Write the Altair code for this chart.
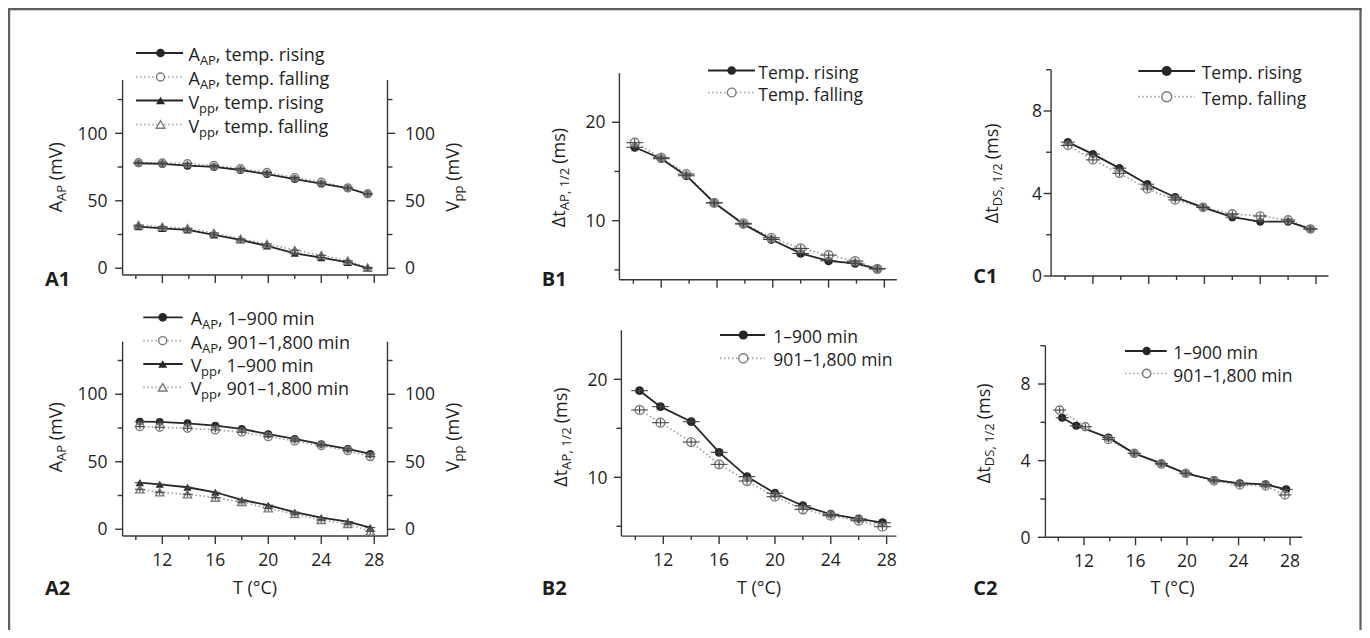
import altair as alt
import pandas as pd

# ---------------- values ----------------
T_A1 = [10.2, 12.0, 13.9, 15.9, 17.9, 19.9, 22.0, 24.0, 26.0, 27.5]
A1_aap_rise = [77.8, 77.3, 76.0, 75.1, 72.8, 69.8, 66.1, 62.7, 59.3, 55.0]
A1_aap_fall = [78.2, 78.0, 77.5, 76.2, 73.8, 71.0, 67.2, 63.8, 59.6, 55.2]
A1_vpp_rise = [30.8, 29.6, 28.4, 24.7, 21.0, 16.5, 11.1, 7.9, 4.4, 0.0]
A1_vpp_fall = [32.0, 30.8, 29.6, 26.2, 21.8, 18.0, 13.4, 9.6, 5.6, 0.6]

T_A2 = [10.3, 11.8, 13.9, 16.0, 18.0, 20.0, 22.0, 24.0, 26.0, 27.7]
A2_aap_early = [79.7, 79.5, 78.5, 76.8, 74.3, 70.4, 66.9, 63.0, 59.5, 55.8]
A2_aap_late = [76.0, 75.5, 74.8, 73.6, 71.9, 68.6, 65.4, 61.9, 58.2, 53.8]
A2_vpp_early = [34.5, 33.3, 31.1, 27.4, 21.7, 17.8, 12.6, 8.6, 5.7, 1.2]
A2_vpp_late = [29.6, 27.4, 25.9, 23.4, 20.2, 15.5, 11.3, 6.9, 3.9, -1.5]

T_B1 = [10.1, 12.0, 13.8, 15.8, 17.9, 19.9, 22.0, 24.0, 25.9, 27.5]
B1_rise = [17.46, 16.30, 14.57, 11.82, 9.65, 8.09, 6.67, 5.92, 5.66, 5.11]
B1_fall = [17.93, 16.40, 14.74, 11.82, 9.73, 8.26, 7.18, 6.50, 5.89, 5.11]

T_B2 = [10.3, 11.8, 14.0, 16.0, 18.0, 20.0, 22.0, 24.0, 26.0, 27.7]
B2_early = [18.84, 17.21, 15.68, 12.55, 10.07, 8.37, 7.10, 6.23, 5.75, 5.37]
B2_late = [16.87, 15.57, 13.60, 11.32, 9.62, 8.02, 6.73, 6.08, 5.57, 4.96]

T_C1 = [10.2, 12.0, 13.9, 15.9, 17.9, 19.9, 22.0, 24.0, 26.0, 27.6]
C1_rise = [6.49, 5.91, 5.23, 4.45, 3.82, 3.33, 2.85, 2.64, 2.64, 2.28]
C1_fall = [6.33, 5.63, 4.98, 4.22, 3.69, 3.33, 3.01, 2.91, 2.72, 2.28]

T_C2_early = [10.3, 11.4, 13.9, 15.9, 18.0, 19.9, 22.1, 24.1, 26.1, 27.7]
T_C2_late = [10.1, 12.1, 13.9, 15.9, 18.0, 19.9, 22.1, 24.1, 26.1, 27.6]
C2_early = [6.24, 5.82, 5.20, 4.38, 3.86, 3.34, 2.99, 2.82, 2.76, 2.50]
C2_late = [6.64, 5.77, 5.11, 4.38, 3.82, 3.34, 2.94, 2.73, 2.68, 2.21]

# error-bar half widths estimated from the crosses
TERR_A, YERR_A = 0.38, 2.0
TERR_B, YERR_B = 0.6, 0.35
TERR_C, YERR_C = 0.5, 0.15

# tick values
X_MAJOR = [12, 16, 20, 24, 28]
X_MINOR = [10, 14, 18, 22, 26]
A_Y_MAJOR, A_Y_MINOR = [0, 50, 100], [25, 75, 125]
B_Y_MAJOR, B_Y_MINOR = [10, 20], [5, 15]
C_Y_MAJOR, C_Y_MINOR = [0, 4, 8], [2, 6, 10]

# ---------------- style / layout ----------------
FONT = "Open Sans"
DARK = "#262626"
LIGHT = "#a0a0a0"
HOLLOW = "#7a7a7a"
ERR = "#444444"
AXC = "#363636"
TXT = "#1e1e1e"
MAIN, SUB = 18, 13
TICKFS = 17.5
W, H = 1354, 622
OFF = 8
ONE = pd.DataFrame({"k": [0]})
AXR = dict(color=AXC, strokeWidth=1.4)


def px(v):
    return v - OFF


GEOM = {
    "A1": dict(xdom=[9, 29], xr=[122.6, 387.5], ydom=[-5, 139.5], yr=[275.0, 80.0], gap=15),
    "A2": dict(xdom=[9, 29], xr=[122.6, 387.5], ydom=[-5, 139], yr=[536.0, 341.6], gap=15),
    "B1": dict(xdom=[9, 28.9], xr=[619.4, 896.9], ydom=[4, 25], yr=[279.7, 73.1], gap=14),
    "B2": dict(xdom=[9, 28.7], xr=[621.4, 896.4], ydom=[4, 25], yr=[536.1, 330.3], gap=14),
    "C1": dict(xdom=[9, 28.9], xr=[1051.1, 1328.5], ydom=[0, 10], yr=[276.0, 69.75], gap=9),
    "C2": dict(xdom=[9, 28.95], xr=[1045.4, 1302.3], ydom=[0, 10], yr=[537.3, 345.7], gap=15),
}


def series_df(Ta, va, vb, te, ve, Tb=None):
    Tb = Tb if Tb is not None else Ta
    n = len(va) + len(vb)
    return pd.DataFrame({"T": Ta + Tb, "v": va + vb,
                         "s": ["a"] * len(va) + ["b"] * len(vb),
                         "te": [te] * n, "ve": [ve] * n})


def xscale(g):
    return alt.Scale(domain=g["xdom"], range=[px(g["xr"][0]), px(g["xr"][1])], nice=False, zero=False)


def yscale(g):
    return alt.Scale(domain=g["ydom"], range=[px(g["yr"][0]), px(g["yr"][1])], nice=False, zero=False)


def XF(field, xs):
    return alt.X(f"{field}:Q", scale=xs, axis=None, title=None)


def YF(field, ys):
    return alt.Y(f"{field}:Q", scale=ys, axis=None, title=None)


def series_layers(df, xs, ys, shape, msize):
    base = alt.Chart(df).transform_calculate(
        xlo="datum.T - datum.te", xhi="datum.T + datum.te",
        ylo="datum.v - datum.ve", yhi="datum.v + datum.ve")
    a = base.transform_filter("datum.s === 'a'")
    b = base.transform_filter("datum.s === 'b'")
    enc = dict(x=XF("T", xs), y=YF("v", ys))
    dotted = b.mark_line(color=LIGHT, strokeWidth=1.7, strokeDash=[1.5, 2.5]).encode(**enc)
    solid = a.mark_line(color=DARK, strokeWidth=1.8).encode(**enc)
    full = a.mark_point(shape=shape, filled=True, size=msize, color=DARK, opacity=1).encode(**enc)
    hollow = b.mark_point(shape=shape, filled=False, fill="white", fillOpacity=0.45, size=msize,
                          color=HOLLOW, strokeWidth=1.4, opacity=1).encode(**enc)
    ex = base.mark_rule(color=ERR, strokeWidth=1.1).encode(x=XF("xlo", xs), x2="xhi:Q", y=YF("v", ys))
    ey = base.mark_rule(color=ERR, strokeWidth=1.1).encode(x=XF("T", xs), y=YF("ylo", ys), y2="yhi:Q")
    return [dotted, solid, full, hollow, ex, ey]


def x_axis_layers(g, xs, labels):
    yb = px(g["yr"][0])
    out = [
        alt.Chart(pd.DataFrame({"a": [g["xdom"][0]], "b": [g["xdom"][1]]})).mark_rule(**AXR).encode(
            x=XF("a", xs), x2="b:Q", y=alt.value(yb)),
        alt.Chart(pd.DataFrame({"T": X_MAJOR})).mark_rule(**AXR).encode(
            x=XF("T", xs), y=alt.value(yb), y2=alt.value(yb + 8)),
        alt.Chart(pd.DataFrame({"T": X_MINOR})).mark_rule(**AXR).encode(
            x=XF("T", xs), y=alt.value(yb), y2=alt.value(yb + 4)),
    ]
    if labels:
        out.append(alt.Chart(pd.DataFrame({"T": X_MAJOR})).mark_text(
            align="center", baseline="alphabetic", font=FONT, fontSize=TICKFS, color=TXT).encode(
            x=XF("T", xs), y=alt.value(yb + 30), text=alt.Text("T:Q")))
    return out


def y_axis_layers(g, ys, major, minor, side):
    xe = px(g["xr"][0]) if side == "left" else px(g["xr"][1])
    sgn = -1 if side == "left" else 1
    out = [
        alt.Chart(pd.DataFrame({"c": [g["ydom"][0]], "d": [g["ydom"][1]]})).mark_rule(**AXR).encode(
            y=YF("c", ys), y2="d:Q", x=alt.value(xe)),
        alt.Chart(pd.DataFrame({"v": major})).mark_rule(**AXR).encode(
            y=YF("v", ys), x=alt.value(xe), x2=alt.value(xe + sgn * 7.5)),
        alt.Chart(pd.DataFrame({"v": minor})).mark_rule(**AXR).encode(
            y=YF("v", ys), x=alt.value(xe), x2=alt.value(xe + sgn * 5)),
    ]
    if side == "left":
        out.append(alt.Chart(pd.DataFrame({"v": major})).mark_text(
            align="right", baseline="alphabetic", font=FONT, fontSize=TICKFS, color=TXT, dy=6.2).encode(
            y=YF("v", ys), x=alt.value(xe - g["gap"]), text=alt.Text("v:Q")))
    else:
        out.append(alt.Chart(pd.DataFrame({"v": major})).mark_text(
            align="left", baseline="alphabetic", font=FONT, fontSize=TICKFS, color=TXT, dy=6.2).encode(
            y=YF("v", ys), x=alt.value(xe + 17.5), text=alt.Text("v:Q")))
    return out


def panel_A(key, aap_df, vpp_df, xlabels):
    g = GEOM[key]
    xs, ysl, ysr = xscale(g), yscale(g), yscale(g)
    left = alt.layer(*x_axis_layers(g, xs, xlabels), *y_axis_layers(g, ysl, A_Y_MAJOR, A_Y_MINOR, "left"),
                     *series_layers(aap_df, xs, ysl, "circle", 62))
    right = alt.layer(*y_axis_layers(g, ysr, A_Y_MAJOR, A_Y_MINOR, "right"),
                      *series_layers(vpp_df, xs, ysr, "triangle-up", 68))
    return alt.layer(left, right).resolve_scale(y="independent")


def panel_BC(key, df, ymaj, ymin, xlabels, msize):
    g = GEOM[key]
    xs, ys = xscale(g), yscale(g)
    return alt.layer(*x_axis_layers(g, xs, xlabels), *y_axis_layers(g, ys, ymaj, ymin, "left"),
                     *series_layers(df, xs, ys, "circle", msize))


# ---------------- text helpers ----------------
CW = {" ": 0.26, "A": 0.633, "P": 0.59, "V": 0.579, "D": 0.722, "S": 0.536, "Δ": 0.60,
      "t": 0.35, "p": 0.613, "m": 0.93, "(": 0.29, ")": 0.29, "s": 0.486, ",": 0.245,
      "1": 0.572, "/": 0.339, "2": 0.572}


def tw(s, size):
    return sum(CW.get(c, 0.55) for c in s) * size


def text_mark(s, x, y, size, dx=0.0, dy=0.0, angle=0, weight=None, align="left"):
    kw = dict(align=align, baseline="alphabetic", font=FONT, fontSize=size, color=TXT,
              dx=dx, dy=dy, text=s)
    if angle:
        kw["angle"] = angle
    if weight:
        kw["fontWeight"] = weight
    return alt.Chart(ONE).mark_text(**kw).encode(x=alt.value(px(x)), y=alt.value(px(y)))


def rich(parts, x, y, angle=0, main=MAIN, sub=SUB):
    out, adv = [], 0.0
    for s, is_sub in parts:
        size = sub if is_sub else main
        lead = len(s) - len(s.lstrip(" "))
        adv += tw(" " * lead, size)
        core = s.lstrip(" ")
        out.append(text_mark(core, x, y, size, dx=adv, dy=(4 if is_sub else 0), angle=angle))
        adv += tw(core, size)
    return out


def rich_width(parts, main=MAIN, sub=SUB):
    return sum(tw(s, sub if b else main) for s, b in parts)


def vtitle(parts, xbase, cy):
    total = rich_width(parts)
    return rich(parts, xbase, cy + total / 2, angle=270)


def legend_row(xl0, xl1, xm, y, xt, style, shape, msize, parts, main=MAIN):
    if style == "a":
        rule = alt.Chart(ONE).mark_rule(color=DARK, strokeWidth=1.8)
        pt = alt.Chart(ONE).mark_point(shape=shape, filled=True, size=msize, color=DARK, opacity=1)
    else:
        rule = alt.Chart(ONE).mark_rule(color=LIGHT, strokeWidth=1.7, strokeDash=[1.5, 2.5])
        pt = alt.Chart(ONE).mark_point(shape=shape, filled=False, fill="white", size=msize,
                                       color=HOLLOW, strokeWidth=1.4, opacity=1)
    out = [rule.encode(x=alt.value(px(xl0)), x2=alt.value(px(xl1)), y=alt.value(px(y))),
           pt.encode(x=alt.value(px(xm)), y=alt.value(px(y)))]
    return out + rich(parts, xt, y + 8, main=main)


# ---------------- panels ----------------
A1 = panel_A("A1", series_df(T_A1, A1_aap_rise, A1_aap_fall, TERR_A, YERR_A),
             series_df(T_A1, A1_vpp_rise, A1_vpp_fall, TERR_A, YERR_A), False)
A2 = panel_A("A2", series_df(T_A2, A2_aap_early, A2_aap_late, TERR_A, YERR_A),
             series_df(T_A2, A2_vpp_early, A2_vpp_late, TERR_A, YERR_A), True)
B1 = panel_BC("B1", series_df(T_B1, B1_rise, B1_fall, TERR_B, YERR_B), B_Y_MAJOR, B_Y_MINOR, False, 78)
B2 = panel_BC("B2", series_df(T_B2, B2_early, B2_late, TERR_B, YERR_B), B_Y_MAJOR, B_Y_MINOR, True, 78)
C1 = panel_BC("C1", series_df(T_C1, C1_rise, C1_fall, TERR_C, YERR_C), C_Y_MAJOR, C_Y_MINOR, False, 68)
C2 = panel_BC("C2", series_df(T_C2_early, C2_early, C2_late, TERR_C, YERR_C, T_C2_late),
              C_Y_MAJOR, C_Y_MINOR, True, 66)

# ---------------- annotations ----------------
ann = []
FR = dict(color="#5e5e5e", strokeWidth=2.2)
ann.append(alt.Chart(ONE).mark_rule(**FR).encode(x=alt.value(1.1), y=alt.value(0), y2=alt.value(H)))
ann.append(alt.Chart(ONE).mark_rule(**FR).encode(x=alt.value(0), x2=alt.value(W), y=alt.value(1.1)))
ann.append(alt.Chart(ONE).mark_rule(**FR).encode(x=alt.value(W - 1.5), y=alt.value(0), y2=alt.value(H)))

A_TXT1 = [", temp. rising", ", temp. falling", ", temp. rising", ", temp. falling"]
A_TXT2 = [", 1–900 min", ", 901–1,800 min", ", 1–900 min", ", 901–1,800 min"]
A_SYM = [("a", "circle", 75, "A", "AP"), ("b", "circle", 65, "A", "AP"),
         ("a", "triangle-up", 80, "V", "pp"), ("b", "triangle-up", 75, "V", "pp")]
for rows, txts, (l0, l1, lm, lt) in [
        ([53, 77, 100.5, 124.5], A_TXT1, (136, 183, 160.5, 188.5)),
        ([317.3, 340.7, 364, 387.3], A_TXT2, (143.3, 182.7, 162.7, 190.7))]:
    for y, t, (st, sh, ms, big, small) in zip(rows, txts, A_SYM):
        ann += legend_row(l0, l1, lm, y, lt, st, sh, ms, [(big, False), (small, True), (t, False)])

for rows, txts, (l0, l1, lm, lt), ms in [
        ([70.5, 92.5], ["Temp. rising", "Temp. falling"], (708, 755, 731.7, 758.3), 75),
        ([335, 358.3], ["1–900 min", "901–1,800 min"], (720, 765, 743.3, 773.3), 85),
        ([71, 96.7], ["Temp. rising", "Temp. falling"], (1138.3, 1195, 1166.7, 1201.7), 100),
        ([351, 373.5], ["1–900 min", "901–1,800 min"], (1125, 1166.7, 1146.7, 1173.3), 70)]:
    ann += legend_row(l0, l1, lm, rows[0], lt, "a", "circle", ms, [(txts[0], False)], main=17.5)
    ann += legend_row(l0, l1, lm, rows[1], lt, "b", "circle", ms, [(txts[1], False)], main=17.5)

AAP_T = [("A", False), ("AP", True), (" (mV)", False)]
VPP_T = [("V", False), ("pp", True), (" (mV)", False)]
DAP_T = [("Δt", False), ("AP, 1/2", True), (" (ms)", False)]
DDS_T = [("Δt", False), ("DS, 1/2", True), (" (ms)", False)]
ann += vtitle(AAP_T, 61.5, 177.5) + vtitle(VPP_T, 458.5, 177.5)
ann += vtitle(AAP_T, 61.5, 437.5) + vtitle(VPP_T, 458.5, 437.5)
ann += vtitle(DAP_T, 564.5, 177.5) + vtitle(DAP_T, 567, 437.0)
ann += vtitle(DDS_T, 998, 173.3) + vtitle(DDS_T, 990, 433.3)
for cx in [255, 759, 1172.5]:
    ann.append(text_mark("T (°C)", cx, 594, MAIN, align="center"))

for lab, x, y in [("A1", 45, 286), ("A2", 45, 595), ("B1", 541.7, 286), ("B2", 541.7, 595),
                  ("C1", 973.3, 282.7), ("C2", 973.3, 595)]:
    ann.append(text_mark(lab, x, y, 20, weight="bold"))

chart = alt.layer(A1, A2, B1, B2, C1, C2, *ann).resolve_scale(
    x="independent", y="independent"
).properties(
    width=W, height=H, padding=0, autosize=alt.AutoSizeParams(type="none")
).configure_view(strokeWidth=0)

chart.save("out.html", embed_options={"renderer": "svg", "actions": False})
